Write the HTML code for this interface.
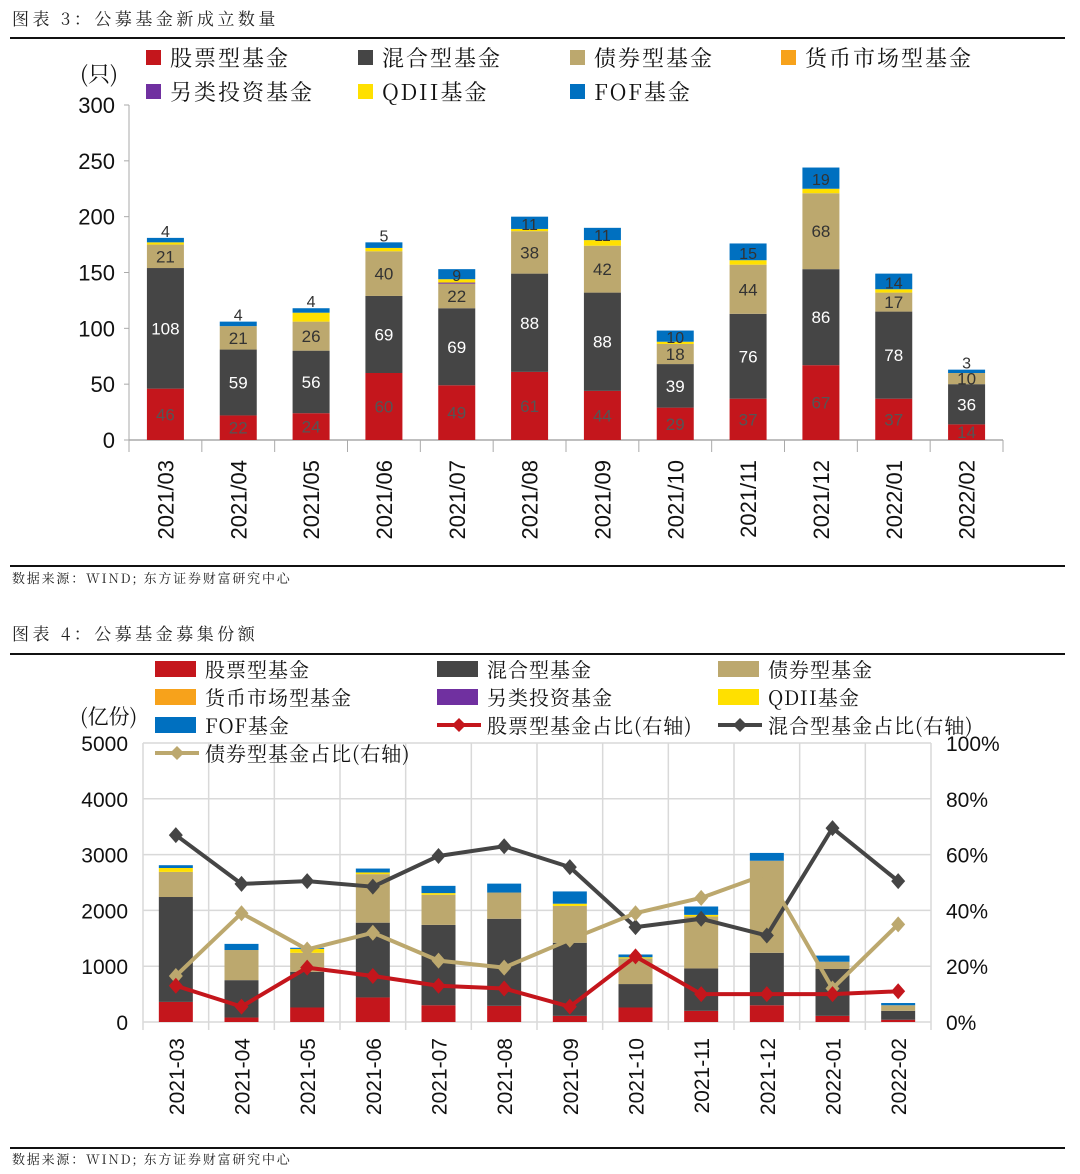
<!DOCTYPE html>
<html><head><meta charset="utf-8">
<style>
html,body{margin:0;padding:0;background:#fff;}
svg{display:block;font-family:"Liberation Sans","Noto Sans CJK SC",sans-serif;}
.cj{font-family:"Noto Serif CJK SC","Noto Sans CJK SC",serif;}
</style></head>
<body>
<svg id="root" width="1080" height="1174" viewBox="0 0 1080 1174" xmlns="http://www.w3.org/2000/svg">
  <text x="12" y="25" font-size="17" class="cj" fill="#222" letter-spacing="3.5">图表 3：公募基金新成立数量</text>
  <rect x="10" y="37" width="1055" height="2" fill="#111"/>
  <rect x="10" y="565" width="1055" height="2" fill="#111"/>
  <text x="12" y="583" font-size="13" class="cj" fill="#222" letter-spacing="1.8">数据来源：WIND; 东方证券财富研究中心</text>
  <text x="12" y="640" font-size="17" class="cj" fill="#222" letter-spacing="3.5">图表 4：公募基金募集份额</text>
  <rect x="10" y="653" width="1055" height="2" fill="#111"/>
  <rect x="10" y="1147" width="1055" height="2" fill="#111"/>
  <text x="12" y="1164" font-size="13" class="cj" fill="#222" letter-spacing="1.8">数据来源：WIND; 东方证券财富研究中心</text>
  <g id="c1"></g>
  <g id="c2"></g>
</svg>
<script>
// ---------- Chart 1 data ----------
const c1Months = ["2021/03","2021/04","2021/05","2021/06","2021/07","2021/08","2021/09","2021/10","2021/11","2021/12","2022/01","2022/02"];
const c1Stock = [46,22,24,60,49,61,44,29,37,67,37,14];
const c1Mixed = [108,59,56,69,69,88,88,39,76,86,78,36];
const c1Bond = [21,21,26,40,22,38,42,18,44,68,17,10];
const c1Money = [0,0,0,0,0,0,0,0,0,0,0,0];
const c1Alt = [0,0,0,0,1,0,0,0,0,0,0,0];
const c1Qdii = [2,0,8,3,3,2,5,2,4,4,3,0];
const c1Fof = [4,4,4,5,9,11,11,10,15,19,14,3];
const c1Ticks = [0,50,100,150,200,250,300];

// ---------- Chart 2 data ----------
const c2Months = ["2021-03","2021-04","2021-05","2021-06","2021-07","2021-08","2021-09","2021-10","2021-11","2021-12","2022-01","2022-02"];
const c2Stock = [360,80,260,440,300,290,110,260,200,300,110,40];
const c2Mixed = [1880,670,640,1340,1440,1560,1310,420,760,940,840,160];
const c2Bond = [450,540,340,870,540,470,660,460,930,1650,130,100];
const c2Money = [0,0,0,0,0,0,0,0,0,0,0,0];
const c2Alt = [0,0,0,0,0,0,0,0,0,0,0,0];
const c2Qdii = [70,0,70,30,30,0,40,20,30,0,0,0];
const c2Fof = [50,110,20,70,130,160,220,50,150,140,110,40];
const c2StockPct = [13,5.5,19.5,16.5,13,12,5.5,23.5,10,10,10,11];
const c2MixedPct = [67,49.5,50.5,48.5,59.5,63,55.5,34,37,31,69.5,50.5];
const c2BondPct = [16.5,39,26,32,22,19.5,29.5,39,44.5,53,12,35];
const c2LeftTicks = [0,1000,2000,3000,4000,5000];
const c2RightTicks = [0,20,40,60,80,100];

const NS="http://www.w3.org/2000/svg";
function mk(parent,tag,attrs,text){const e=document.createElementNS(NS,tag);for(const k in attrs)e.setAttribute(k,attrs[k]);if(text!==undefined)e.textContent=text;parent.appendChild(e);return e;}
const COL={stock:"#C4161C",mixed:"#454545",bond:"#BCA86E",money:"#F7A21B",alt:"#7030A0",qdii:"#FFE000",fof:"#0070C0"};

// ===== Chart 1 =====
(function(){
  const g=document.getElementById('c1');
  const y0=440, yTop=105, vmax=300, xL=129, xR=1003;
  const Y=v=>y0-(v/vmax)*(y0-yTop);
  const step=(xR-xL)/c1Months.length;
  const X=i=>xL+step*(i+0.5);
  const bw=37;
  let e=mk(g,'line',{x1:xL,y1:yTop,x2:xL,y2:y0,stroke:'#aaa','stroke-width':1});
  
  
  c1Ticks.forEach(t=>{
    let tk=mk(g,'line',{x1:xL-5,y1:Y(t),x2:xL,y2:Y(t),stroke:'#aaa'});
    
    
    let tl=mk(g,'text',{x:115,y:Y(t)+8,'font-size':22,'text-anchor':'end',fill:'#111'},String(t));
    
    
  });
  e=mk(g,'text',{x:80,y:82,'font-size':22,fill:'#111',class:'cj'},'(只)');
  
  
  e=mk(g,'line',{x1:xL,y1:y0,x2:xR,y2:y0,stroke:'#aaa','stroke-width':1.5});
  
  
  for(let i=0;i<=c1Months.length;i++){
    let tk=mk(g,'line',{x1:xL+step*i,y1:y0,x2:xL+step*i,y2:y0+12,stroke:'#aaa'});
    
    
  }
  const series=[[c1Stock,'stock'],[c1Mixed,'mixed'],[c1Bond,'bond'],[c1Money,'money'],[c1Alt,'alt'],[c1Qdii,'qdii'],[c1Fof,'fof']];
  c1Months.forEach((m,i)=>{
    let acc=0;
    series.forEach(([arr,k])=>{
      const v=arr[i]; if(!v){return;}
      const r=mk(g,'rect',{x:X(i)-bw/2,y:Y(acc+v),width:bw,height:Y(acc)-Y(acc+v),fill:COL[k]});
      
      
      const mid=(Y(acc)+Y(acc+v))/2;
      let lbl=null;
      if(k==='stock') lbl=mk(g,'text',{x:X(i),y:mid+6,'font-size':17,'text-anchor':'middle',fill:'#555'},String(v));
      else if(k==='mixed') lbl=mk(g,'text',{x:X(i),y:mid+6,'font-size':17,'text-anchor':'middle',fill:'#fff'},String(v));
      else if(k==='bond') lbl=mk(g,'text',{x:X(i),y:mid+6,'font-size':17,'text-anchor':'middle',fill:'#333'},String(v));
      else if(k==='fof'){
        const inside=Y(acc)-Y(acc+v)>10;
        lbl=mk(g,'text',{x:X(i),y:inside?mid+7:Y(acc+v)-1,'font-size':16,'text-anchor':'middle',fill:'#333'},String(v));
      }
      if(lbl){}
      acc+=v;
    });
    const xl=mk(g,'text',{x:0,y:0,'font-size':22,'text-anchor':'end',fill:'#111',transform:`translate(${X(i)+8},460) rotate(-90)`},m);
    
    
  });
  const leg=[['股票型基金','stock',146,58],['混合型基金','mixed',358,58],['债券型基金','bond',570,58],['货币市场型基金','money',781,58],['另类投资基金','alt',146,92],['QDII基金','qdii',358,92],['FOF基金','fof',570,92]];
  leg.forEach(([t,k,x,y])=>{
    const s=mk(g,'rect',{x:x,y:y-8,width:15,height:15,fill:COL[k]});
    
    
    const tx=mk(g,'text',{x:x+24,y:y+8,'font-size':22,fill:'#111',class:'cj','letter-spacing':'2'},t);
    
    
  });
})();

// ===== Chart 2 =====
(function(){
  const g=document.getElementById('c2');
  const y0=1022, yTop=743, xL=143, xR=931;
  const Y=v=>y0-(v/5000)*(y0-yTop);
  const YR=p=>y0-(p/100)*(y0-yTop);
  const step=(xR-xL)/c2Months.length;
  const X=i=>xL+step*(i+0.5);
  const bw=34;
  c2LeftTicks.forEach(t=>{
    const gl=mk(g,'line',{x1:xL,y1:Y(t),x2:xR,y2:Y(t),stroke:'#d9d9d9','stroke-width':1.5});
    
    
    const tl=mk(g,'text',{x:128,y:Y(t)+8,'font-size':21,'text-anchor':'end',fill:'#111'},String(t));
    
    
  });
  c2RightTicks.forEach(t=>{
    const tl=mk(g,'text',{x:946,y:YR(t)+8,'font-size':21,fill:'#111'},t+'%');
    
    
  });
  for(let i=0;i<=c2Months.length;i++){
    const gl=mk(g,'line',{x1:xL+step*i,y1:yTop,x2:xL+step*i,y2:y0+8,stroke:'#d9d9d9','stroke-width':1.5});
    
    
  }
  let e=mk(g,'text',{x:80,y:724,'font-size':21,fill:'#111',class:'cj'},'(亿份)');
  
  
  const series=[[c2Stock,'stock'],[c2Mixed,'mixed'],[c2Bond,'bond'],[c2Money,'money'],[c2Alt,'alt'],[c2Qdii,'qdii'],[c2Fof,'fof']];
  c2Months.forEach((m,i)=>{
    let acc=0;
    series.forEach(([arr,k])=>{
      const v=arr[i]; if(!v) return;
      const r=mk(g,'rect',{x:X(i)-bw/2,y:Y(acc+v),width:bw,height:Y(acc)-Y(acc+v),fill:COL[k]});
      
      
      acc+=v;
    });
    const xl=mk(g,'text',{x:0,y:0,'font-size':21,'text-anchor':'end',fill:'#111',transform:`translate(${X(i)+8},1038) rotate(-90)`},m);
    
    
  });
  function line(arr,color,name){
    const pts=arr.map((p,i)=>X(i)+','+YR(p)).join(' ');
    const pl=mk(g,'polyline',{points:pts,fill:'none',stroke:color,'stroke-width':4,'stroke-linejoin':'round'});
    
    
    arr.forEach((p,i)=>{
      const x=X(i),y=YR(p);
      const d=mk(g,'polygon',{points:`${x},${y-8} ${x+7},${y} ${x},${y+8} ${x-7},${y}`,fill:color});
      
      
    });
  }
  line(c2MixedPct,'#454545','c2-mixed-pct');
  line(c2BondPct,'#BCA86E','c2-bond-pct');
  line(c2StockPct,'#C4161C','c2-stock-pct');
  const leg=[['股票型基金','stock',155,669],['混合型基金','mixed',437,669],['债券型基金','bond',718,669],
             ['货币市场型基金','money',155,697],['另类投资基金','alt',437,697],['QDII基金','qdii',718,697],['FOF基金','fof',155,725]];
  leg.forEach(([t,k,x,y])=>{
    const s=mk(g,'rect',{x:x,y:y-8,width:41,height:16,fill:COL[k]});
    
    
    const tx=mk(g,'text',{x:x+50,y:y+8,'font-size':20,fill:'#111',class:'cj','letter-spacing':'1'},t);
    
    
  });
  const ll=[['股票型基金占比(右轴)','#C4161C',437,725],['混合型基金占比(右轴)','#454545',718,725],['债券型基金占比(右轴)','#BCA86E',155,753]];
  ll.forEach(([t,c,x,y])=>{
    const l=mk(g,'line',{x1:x,y1:y,x2:x+44,y2:y,stroke:c,'stroke-width':4});
    
    
    const d=mk(g,'polygon',{points:`${x+22},${y-7} ${x+29},${y} ${x+22},${y+7} ${x+15},${y}`,fill:c});
    
    
    const tx=mk(g,'text',{x:x+50,y:y+8,'font-size':20,fill:'#111',class:'cj','letter-spacing':'1'},t);
    
    
  });
})();
</script>
</body></html>
